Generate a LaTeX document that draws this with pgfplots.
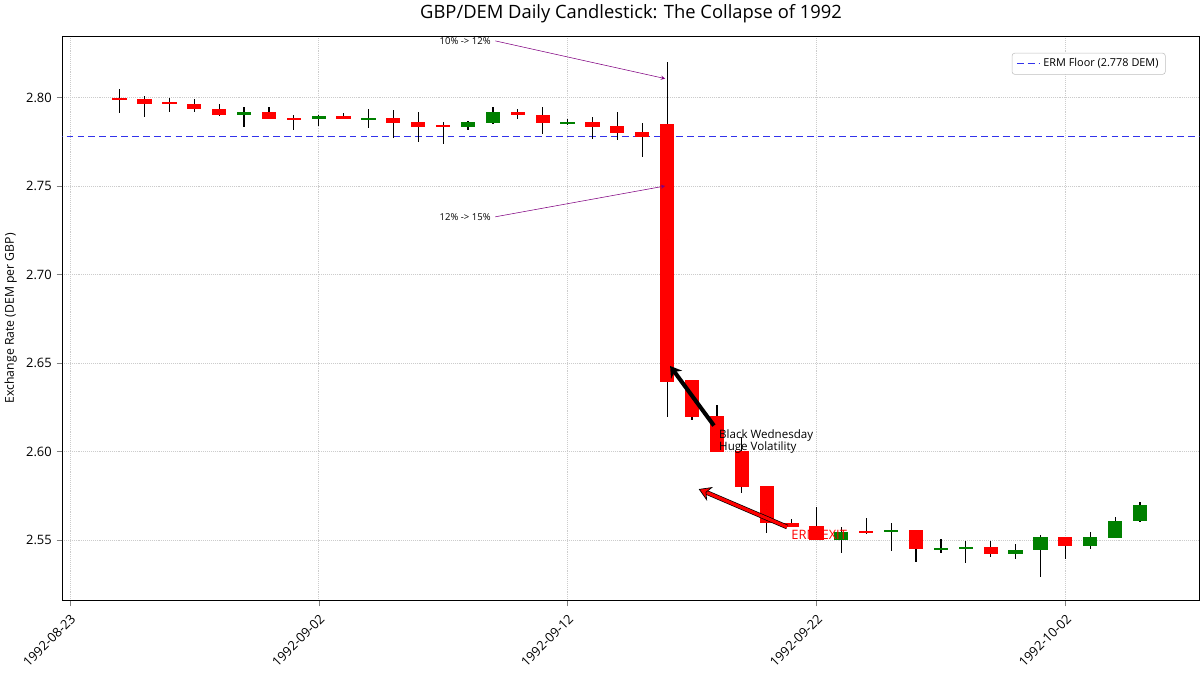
\documentclass[border=0pt]{standalone}
\usepackage{pgfplots}
\pgfplotsset{compat=1.18}
\usepackage{pgfplotstable}
\usetikzlibrary{arrows.meta}
\usepackage{fontspec}
\setmainfont{Open Sans}
\definecolor{cred}{RGB}{255,0,0}
\definecolor{cgreen}{RGB}{0,128,0}
\definecolor{ermblue}{RGB}{50,50,235}
\definecolor{annp}{RGB}{128,0,128}
\pgfplotstableread{
x top bot hi lo
2 2.8000 2.7989 2.8051 2.7910
3 2.7989 2.7966 2.8006 2.7888
4 2.7972 2.7961 2.8000 2.7921
5 2.7966 2.7938 2.7994 2.7916
6 2.7938 2.7904 2.7966 2.7893
8 2.7916 2.7876 2.7944 2.7876
9 2.7882 2.7876 2.7904 2.7815
11 2.7893 2.7876 2.7910 2.7876
13 2.7882 2.7854 2.7927 2.7770
14 2.7860 2.7831 2.7916 2.7747
15 2.7843 2.7831 2.7860 2.7736
18 2.7921 2.7899 2.7938 2.7876
19 2.7904 2.7854 2.7949 2.7792
21 2.7860 2.7831 2.7888 2.7764
22 2.7837 2.7798 2.7921 2.7758
23 2.7803 2.7775 2.7854 2.7663
24 2.7848 2.6393 2.8202 2.6197
25 2.6404 2.6197 2.6404 2.6180
26 2.6202 2.5994 2.6264 2.5994
27 2.6000 2.5798 2.6079 2.5764
28 2.5803 2.5596 2.5803 2.5539
29 2.5596 2.5573 2.5618 2.5573
30 2.5579 2.5500 2.5685 2.5500
32 2.5551 2.5539 2.5624 2.5534
34 2.5556 2.5449 2.5556 2.5376
37 2.5461 2.5421 2.5494 2.5404
40 2.5517 2.5466 2.5517 2.5393
}\redtab
\pgfplotstableread{
x top bot hi lo
7 2.7921 2.7904 2.7949 2.7831
10 2.7893 2.7876 2.7899 2.7837
12 2.7882 2.7876 2.7933 2.7826
16 2.7860 2.7831 2.7865 2.7815
17 2.7921 2.7854 2.7944 2.7848
20 2.7860 2.7854 2.7876 2.7843
31 2.5545 2.5500 2.5573 2.5427
33 2.5556 2.5545 2.5596 2.5438
35 2.5455 2.5444 2.5506 2.5427
36 2.5461 2.5449 2.5494 2.5371
38 2.5444 2.5421 2.5478 2.5393
39 2.5517 2.5444 2.5528 2.5292
41 2.5517 2.5466 2.5545 2.5449
42 2.5607 2.5511 2.5629 2.5511
43 2.5697 2.5607 2.5714 2.5601
}\greentab
\pgfplotsset{
  wick/.style={forget plot, only marks, mark=*, mark size=0pt, mark options={draw=none,fill=none},
    error bars/.cd, y dir=both, y explicit, error mark=none, error bar style={black, line width=0.9pt}},
  body/.style={forget plot, only marks, mark=*, mark size=0pt, mark options={draw=none,fill=none},
    error bars/.cd, y dir=both, y explicit, error mark=none, error bar style={#1, line width=10.5pt, line cap=butt}},
}
\begin{document}
\begin{tikzpicture}
\begin{axis}[
  scale only axis, width=836pt, height=415pt,
  xmin=-0.3, xmax=45.4, ymin=2.5157, ymax=2.8348,
  tick align=outside, tick pos=left,
  xtick={0,10,20,30,40},
  xticklabels={1992-08-23,1992-09-02,1992-09-12,1992-09-22,1992-10-02},
  xticklabel style={rotate=45, anchor=north east, font=\fontsize{9.5}{11}\selectfont},
  ytick={2.55,2.60,2.65,2.70,2.75,2.80},
  yticklabel style={/pgf/number format/fixed, /pgf/number format/fixed zerofill, /pgf/number format/precision=2, font=\fontsize{9.5}{11}\selectfont},
  /pgf/number format/assume math mode=true,
  grid=major, major grid style={densely dotted, gray!40},
  title={GBP/DEM Daily Candlestick: The Collapse of 1992},
  title style={font=\fontsize{13.5}{16}\selectfont},
  ylabel={Exchange Rate (DEM per GBP)},
  ylabel style={font=\fontsize{9}{11}\selectfont},
  legend pos=north east,
  legend style={font=\fontsize{8}{10}\selectfont, draw=gray!50, rounded corners=2pt},
  legend cell align=left,
]
\addplot[color=ermblue, dash pattern=on 5pt off 3pt, line width=1pt] coordinates {(-1,2.778) (46,2.778)};
\addlegendentry{ERM Floor (2.778 DEM)}
\addplot[wick] table[x=x, y expr={(\thisrow{hi}+\thisrow{lo})/2}, y error expr={(\thisrow{hi}-\thisrow{lo})/2}] {\redtab};
\addplot[wick] table[x=x, y expr={(\thisrow{hi}+\thisrow{lo})/2}, y error expr={(\thisrow{hi}-\thisrow{lo})/2}] {\greentab};
\addplot[body=cred] table[x=x, y expr={(\thisrow{top}+\thisrow{bot})/2}, y error expr={max((\thisrow{top}-\thisrow{bot})/2,0.0003)}] {\redtab};
\addplot[body=cgreen] table[x=x, y expr={(\thisrow{top}+\thisrow{bot})/2}, y error expr={max((\thisrow{top}-\thisrow{bot})/2,0.0003)}] {\greentab};
\draw[annp, -stealth, thin] (axis cs:17.1,2.832) node[black, anchor=east, font=\fontsize{7}{8}\selectfont] {10\% -> 12\%} -- (axis cs:23.92,2.8107);
\draw[annp, -stealth, thin] (axis cs:17.1,2.7326) node[black, anchor=east, font=\fontsize{7}{8}\selectfont] {12\% -> 15\%} -- (axis cs:23.92,2.75);
\draw[black, line width=3pt, -{Stealth[length=8pt,width=10pt]}] (axis cs:25.88,2.6146) -- (axis cs:24.12,2.6483);
\draw[-{Stealth[length=9pt,width=11pt,fill=cred]}, draw=black, double=cred, double distance=2.4pt, line width=0.5pt] (axis cs:28.82,2.5573) -- (axis cs:25.27,2.5787);
\node[anchor=west, align=left, font=\fontsize{8.5}{9.5}\selectfont] at (axis cs:25.9,2.6056) {Black Wednesday\\Huge Volatility};
\node[anchor=west, text=cred, font=\fontsize{9.5}{11}\selectfont] at (axis cs:28.8,2.5528) {ERM EXIT};
\end{axis}
\end{tikzpicture}
\end{document}
